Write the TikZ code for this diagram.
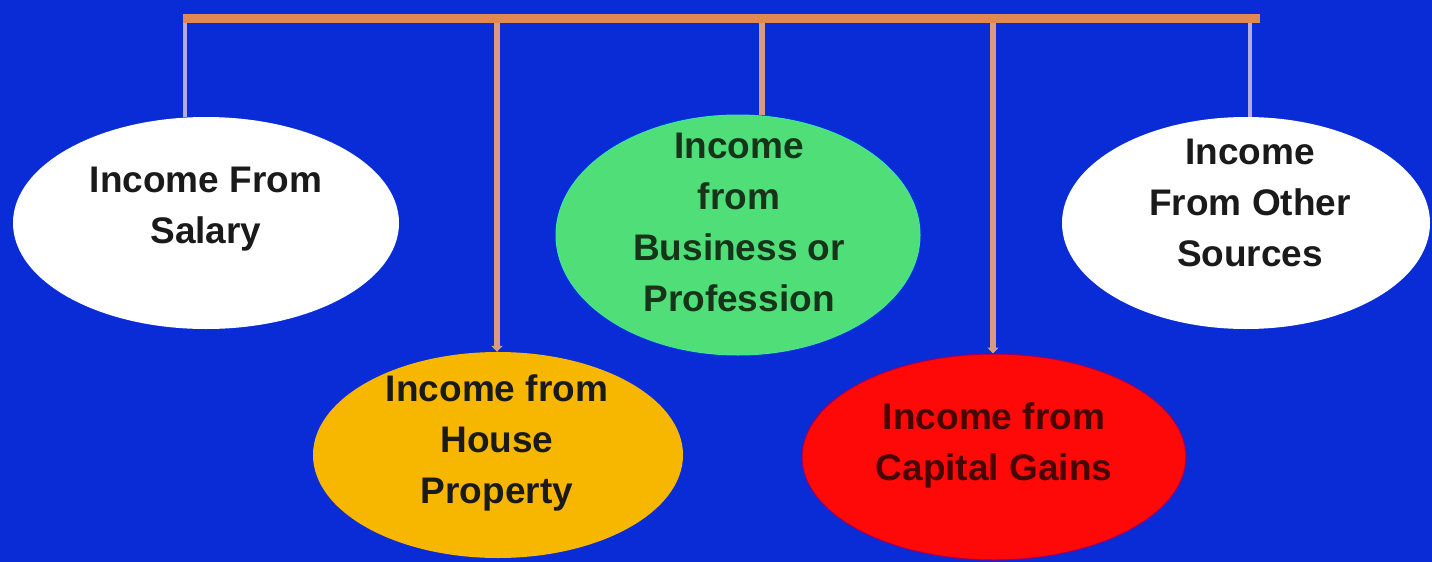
\documentclass[tikz,border=0pt]{standalone}
\usepackage{fontspec}
\setmainfont{Liberation Sans}
\usetikzlibrary{shapes.geometric,arrows.meta}
\definecolor{bg}{RGB}{10,44,214}
\definecolor{barc}{RGB}{224,138,82}
\definecolor{tanc}{RGB}{217,154,130}
\definecolor{lavc}{RGB}{180,172,220}
\definecolor{yel}{RGB}{247,183,0}
\definecolor{grn}{RGB}{80,222,120}
\definecolor{redc}{RGB}{255,8,8}
\definecolor{txtd}{RGB}{26,26,26}
\definecolor{txtg}{RGB}{22,52,26}
\definecolor{txtr}{RGB}{70,6,6}
\begin{document}
\begin{tikzpicture}[x=1pt,y=-1pt,
  oval/.style={ellipse,inner sep=0pt},
  lbl/.style={align=center,font=\fontsize{37}{51}\selectfont\bfseries,inner sep=0pt},
  barline/.style={line width=9pt,draw=barc},
  outerline/.style={line width=4pt,draw=lavc},
  midline/.style={line width=6pt,draw=tanc},
  tipline/.style={midline,-{Triangle[width=11pt,length=6pt]}}]
\fill[bg] (0,0) rectangle (1432,562);
\useasboundingbox (0,0) rectangle (1432,562);
% ellipses
\node[oval,fill=white,minimum width=386pt,minimum height=212pt] (sal) at (206,223) {};
\node[oval,fill=yel,minimum width=370pt,minimum height=206pt] (hp) at (498,455) {};
\node[oval,fill=grn,draw=grn!70!cyan,line width=1pt,minimum width=364pt,minimum height=240pt] (bp) at (738,235) {};
\node[oval,fill=redc,draw=red!60!blue,line width=1pt,minimum width=384pt,minimum height=206pt] (cg) at (994,457) {};
\node[oval,fill=white,minimum width=368pt,minimum height=212pt] (os) at (1246,223) {};
% texts
\node[lbl,text=txtd] (salt) at (206,209) {Income From\\Salary};
\node[lbl,text=txtd] (hpt) at (497,443) {Income from\\House\\Property};
\node[lbl,text=txtg] (bpt) at (739,222) {Income\\from\\Business or\\Profession};
\node[lbl,text=txtr] (cgt) at (994,445) {Income from\\Capital Gains};
\node[lbl,text=txtd] (ost) at (1250,203) {Income\\From Other\\Sources};
% connectors
\coordinate (bl) at (183,18);
\coordinate (br) at (1260,18);
\coordinate (t1) at (185,18);
\coordinate (t2) at (497,20);
\coordinate (t3) at (762,20);
\coordinate (t4) at (993,20);
\coordinate (t5) at (1250,18);
\draw[outerline] (t1) -- (t1 |- sal.north);
\draw[outerline] (t5) -- (t5 |- os.north);
\draw[midline] (t3) -- (t3 |- bp.north);
\draw[tipline] (t2) -- (t2 |- hp.north);
\draw[tipline] (t4) -- (t4 |- cg.north);
\draw[barline] (bl) -- (br);
\end{tikzpicture}
\end{document}
